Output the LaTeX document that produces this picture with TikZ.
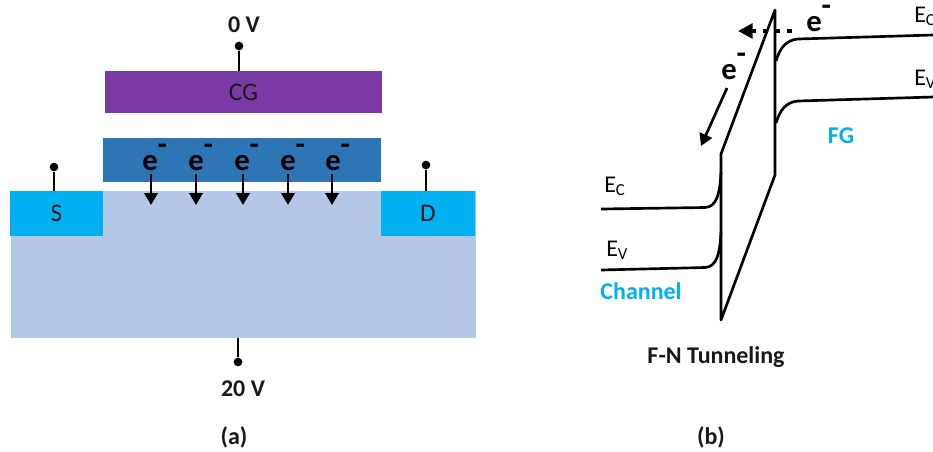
\documentclass[tikz,border=0pt]{standalone}
\usepackage{fontspec}
\setmainfont{Carlito}
\usetikzlibrary{arrows.meta}
\definecolor{cgpurple}{HTML}{7B39A6}
\definecolor{fgblue}{HTML}{2E75B6}
\definecolor{subblue}{HTML}{B4C7E7}
\definecolor{sdcyan}{HTML}{00B0F0}
\begin{document}
\begin{tikzpicture}[x=0.75pt, y=-0.75pt,
                    region/.style={rectangle, inner sep=0pt, text=black!90, font=\fontsize{19}{22}\selectfont},
                    terminal/.style={circle, fill=black, inner sep=0pt, minimum size=6.5pt},
                    wire/.style={line width=2pt},
                    band/.style={line width=2pt, line join=round},
                    flow/.style={line width=2pt, -{Triangle[length=9pt, width=10pt]}},
                    title/.style={font=\bfseries\fontsize{18}{21}\selectfont, text=black!90},
                    elec/.style={anchor=base west, inner sep=0pt, font=\bfseries\fontsize{23}{27}\selectfont},
                    level/.style={anchor=base west, inner sep=0pt, font=\fontsize{18}{21}\selectfont},
                    side/.style={font=\bfseries\fontsize{18}{21}\selectfont, text=sdcyan}]
  \useasboundingbox (0,0) rectangle (933,451);
  \node[region, fill=subblue, minimum width=348.75pt, minimum height=110.25pt] (sub) at (243.5,264.5) {};
  \node[region, fill=sdcyan, minimum width=69.75pt, minimum height=33.75pt] (src) at (56.5,213.5) {S};
  \node[region, fill=sdcyan, minimum width=70.5pt, minimum height=33.75pt] (drn) at (428,213.5) {D};
  \node[region, fill=fgblue, minimum width=208.5pt, minimum height=33pt] (fg) at (242,160) {};
  \node[region, fill=cgpurple, minimum width=207.75pt, minimum height=31.5pt] (cg) at (243.5,92) {CG};
  \node[terminal] (gate) at (239,46) {};
  \node[terminal] (body) at (238,362) {};
  \node[terminal] (stop) at (54,167) {};
  \node[terminal] (dtop) at (426,165) {};
  \draw[wire] (gate) -- (gate |- cg.north);
  \draw[wire] (body) -- (body |- sub.south);
  \draw[wire] (stop) -- (stop |- src.north);
  \draw[wire] (dtop) -- (dtop |- drn.north);
  \node[title] (vg) at (244,25) {0 V};
  \node[title] (vb) at (243,389) {20 V};
  \foreach \n/\ex/\ax in {1/142/151, 2/188/196, 3/234/243, 4/280/288, 5/325/332} {
    \node[elec] (e\n) at (\ex,170) {e\raisebox{12pt}{-}};
    \coordinate (a\n) at (\ax,174);
    \coordinate (b\n) at (\ax,205);
    \draw[flow] (a\n) -- (b\n);
  }
  \coordinate (bt) at (775,10);
  \coordinate (bb) at (775,175);
  \coordinate (lb) at (721,320);
  \coordinate (lt) at (721,154);
  \draw[band] (bt) -- (bb) -- (lb) -- (lt) -- cycle;
  \coordinate (ecl) at (601,209);
  \coordinate (evl) at (601,270);
  \coordinate (ecr) at (933,35);
  \coordinate (evr) at (933,97);
  \draw[band] (ecl) -- (705,207.5) .. controls (716,207) and (720,195) .. (721,172);
  \draw[band] (evl) -- (705,267.5) .. controls (716,267) and (720,255) .. (721,232);
  \draw[band] (776,61) .. controls (780,48) and (786,40) .. (798,39) -- (ecr);
  \draw[band] (776,123) .. controls (780,110) and (786,102) .. (798,101) -- (evr);
  \coordinate (tun) at (792,31);
  \coordinate (tue) at (738,31);
  \draw[line width=3.5pt, dash pattern=on 3.5pt off 5.5pt, -{Triangle[length=11pt, width=11pt]}] (tun) -- (tue);
  \node[elec] (etop) at (806,31) {e\raisebox{12pt}{-}};
  \node[elec] (ediag) at (721,79) {e\raisebox{12pt}{-}};
  \coordinate (das) at (727,88);
  \coordinate (dae) at (701,146);
  \draw[flow] (das) -- (dae);
  \node[level] (ecleft) at (604,192) {E\textsubscript{C}};
  \node[level] (evleft) at (606,256) {E\textsubscript{V}};
  \node[level] (ecright) at (914,22) {E\textsubscript{C}};
  \node[level] (evright) at (914,85) {E\textsubscript{V}};
  \node[side] (fglabel) at (841,136) {FG};
  \node[side] (chlabel) at (641,291) {Channel};
  \node[title] (fnlabel) at (716,357) {F-N Tunneling};
  \node[title] (capa) at (234,437) {(a)};
  \node[title] (capb) at (711,437) {(b)};
\end{tikzpicture}
\end{document}
